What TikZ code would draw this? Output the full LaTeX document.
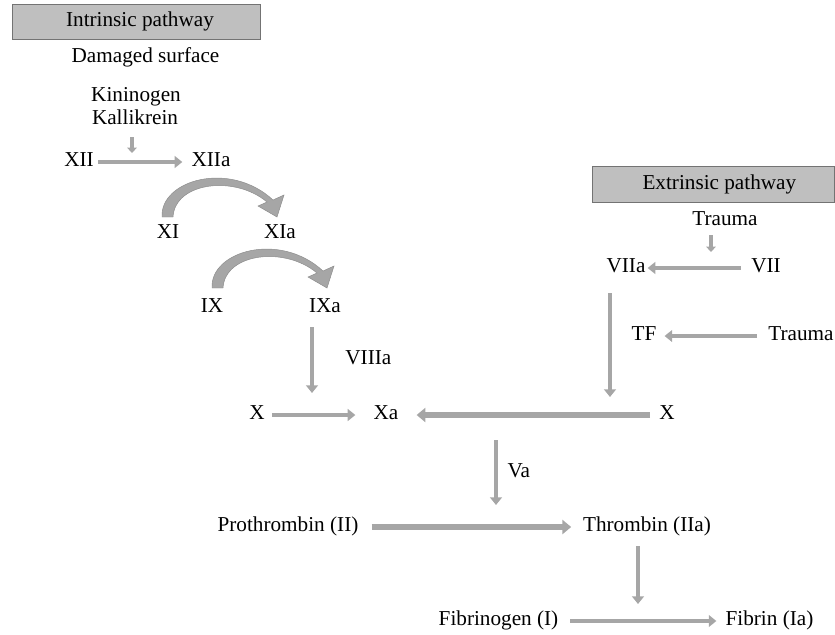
\documentclass[tikz,border=0pt]{standalone}
\usepackage{fontspec}
\setmainfont{Liberation Serif}
\usetikzlibrary{arrows.meta}
\begin{document}
\begin{tikzpicture}[x=0.03cm,y=-0.03cm,
    every node/.style={font=\fontsize{18.1}{21}\selectfont,inner sep=0pt,text height=0.85em,text depth=0.05em},
    flow/.style={draw=black!35,line width=4pt,-{Triangle[length=6.5pt,width=10pt]}},
    bigflow/.style={flow,line width=5.8pt,-{Triangle[length=7.5pt,width=12pt]}},
    tinyflow/.style={flow,line width=3pt,-{Triangle[length=4.5pt,width=8pt]}},
    pathbox/.style={draw=black!55,fill=black!25,line width=0.8pt,minimum height=30.5pt}]
\useasboundingbox (0,0) rectangle (835,634);
% pathway boxes
\node[pathbox,minimum width=211pt] (intr) at (136.5,22) {\hspace*{6pt}Intrinsic pathway};
\node[pathbox,minimum width=207pt] (extr) at (713.5,184.5) {\hspace*{10pt}Extrinsic pathway};
% intrinsic side
\node (dmg) at (145.5,58) {Damaged surface};
\node (kin) at (136,97) {Kininogen};
\node (kal) at (135,120) {Kallikrein};
\node (xii) at (79,162) {XII};
\node (xiia) at (211,162) {XIIa};
\node (xi) at (168,234) {XI};
\node (xia) at (280,234) {XIa};
\node (ix) at (212,308) {IX};
\node (ixa) at (325,308) {IXa};
\node (x1) at (257,415) {X};
\node (xa) at (386,415) {Xa};
% extrinsic side
\node (trauma1) at (725,221) {Trauma};
\node (viia) at (626,268) {VIIa};
\node (vii) at (766,268) {VII};
\node (tf) at (644,336) {TF};
\node (trauma2) at (801,336) {Trauma};
\node (x2) at (667,415) {X};
% common pathway
\node (proth) at (288,527) {Prothrombin (II)};
\node (thromb) at (647,527) {Thrombin (IIa)};
\node (fibg) at (498.5,621) {Fibrinogen (I)};
\node (fib) at (769.5,621) {Fibrin (Ia)};
% free ends
\coordinate (k0) at (132,137);
\coordinate (k1) at (132,153);
\coordinate (t0) at (711,235);
\coordinate (t1) at (711,252);
\coordinate (v8s) at (312,327);
\coordinate (v8e) at (312,393);
\coordinate (v7s) at (610,293);
\coordinate (v7e) at (610,397);
\coordinate (v5s) at (496,440);
\coordinate (v5e) at (496,505);
\coordinate (tha) at (638,546);
\coordinate (thb) at (638,604);
% arrows
\draw[tinyflow] (k0) -- (k1);
\draw[flow,shorten <=3.4pt,shorten >=7.7pt] (xii) -- (xiia);
\foreach \dx/\dy in {0/0,50/71}
  \fill[black!35,draw=black!45,line width=0.4pt,shift={(\dx,\dy)}]
    (162,217) .. controls (160,180) and (230,160) .. (273,200) -- (284,195)
    -- (277,217) -- (258,206) -- (267,202) .. controls (235,175) and (175,182) .. (173,217) -- cycle;
\draw[flow] (v8s) -- (v8e) node[midway,right=26.5pt] (viiia) {VIIIa};
\draw[flow,shorten <=6pt,shorten >=15.4pt] (x1) -- (xa);
\draw[bigflow,shorten <=7.7pt,shorten >=15.4pt] (x2) -- (xa);
\draw[tinyflow] (t0) -- (t1);
\draw[flow,shorten <=8.5pt,shorten >=1.7pt] (vii) -- (viia);
\draw[flow] (v7s) -- (v7e);
\draw[flow,shorten <=9.4pt,shorten >=6.8pt] (trauma2) -- (tf);
\draw[flow] (v5s) -- (v5e) node[midway,right=8pt] (va) {Va};
\draw[bigflow,shorten <=11pt,shorten >=10pt] (proth) -- (thromb);
\draw[flow] (tha) -- (thb);
\draw[flow,shorten <=10pt,shorten >=7.7pt] (fibg) -- (fib);
\end{tikzpicture}
\end{document}
